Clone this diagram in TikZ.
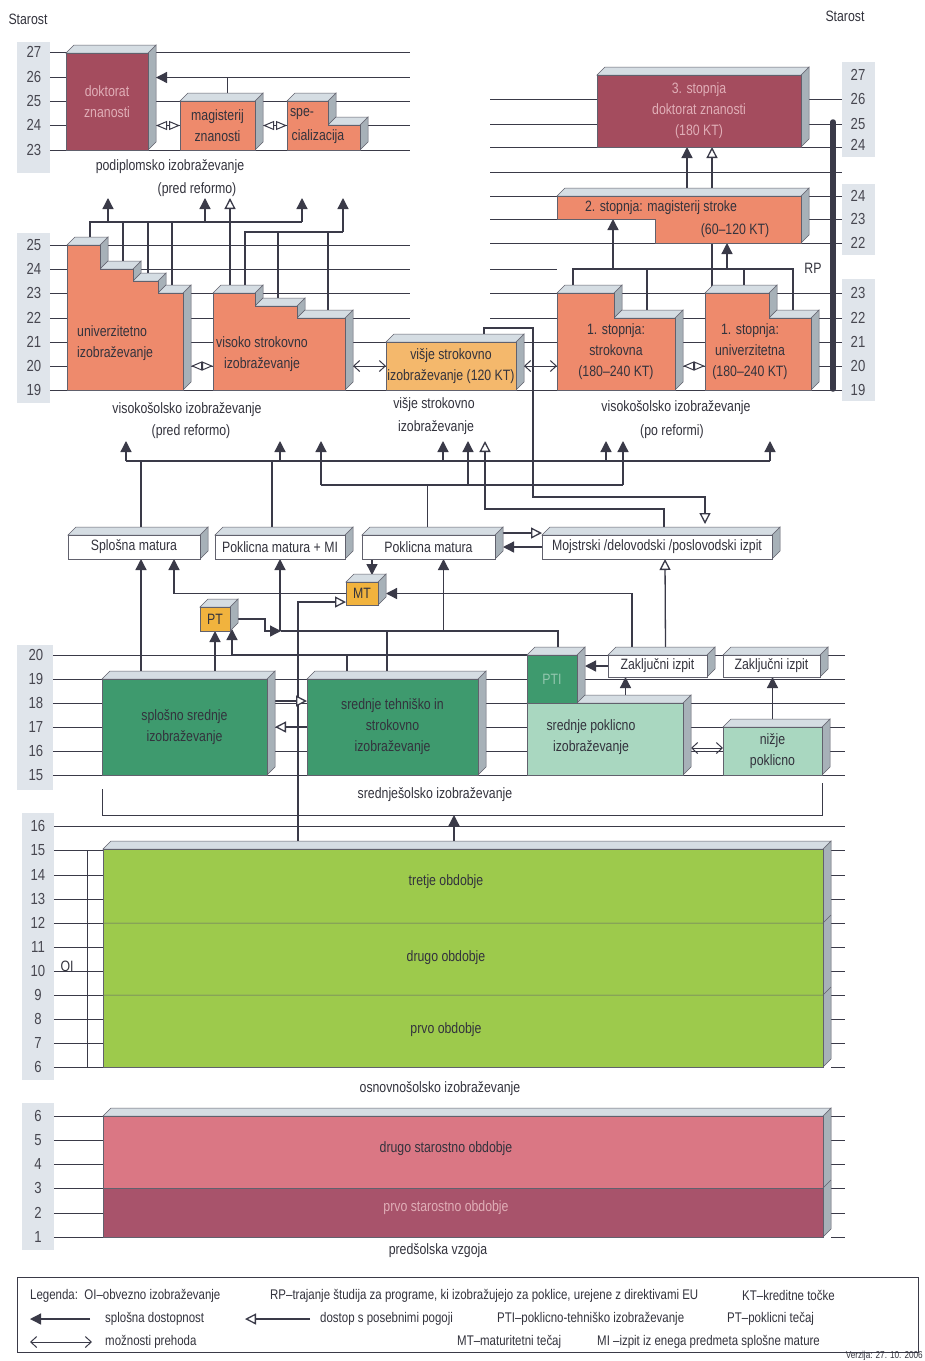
\documentclass[tikz,border=0pt]{standalone}
\usepackage{fontspec}
\setmainfont{Liberation Sans}[FakeStretch=0.82]
\usetikzlibrary{arrows.meta,calc,positioning}

\definecolor{crta}{HTML}{3A3A48}
\definecolor{losos}{HTML}{EE8A6C}
\definecolor{bordo}{HTML}{A44C5E}
\definecolor{rozica}{HTML}{E0AEB7}
\definecolor{oranzna}{HTML}{F4B86C}
\definecolor{zlata}{HTML}{F1B33E}
\definecolor{zelena}{HTML}{3E9A6E}
\definecolor{svzelena}{HTML}{A9D7C0}
\definecolor{bledozel}{HTML}{93C7AE}
\definecolor{rumzel}{HTML}{9DCA4C}
\definecolor{roza}{HTML}{DA7784}
\definecolor{temroza}{HTML}{A8536B}
\definecolor{vrhc}{HTML}{D5DDE3}
\definecolor{bokc}{HTML}{A7B1B8}
\definecolor{lestvica}{HTML}{E0E5EB}
\definecolor{besedilo}{HTML}{33333D}

\tikzstyle{vod} = [draw=crta, line width=1.3pt]
\tikzstyle{puscica} = [vod, -{Triangle[length=11pt,width=11pt]}]
\tikzstyle{odprta} = [vod, -{Triangle[length=11pt,width=11pt,fill=white]}]
\tikzstyle{prehod} = [vod, line width=1pt,
  {Straight Barb[length=6pt,width=11pt]}-{Straight Barb[length=6pt,width=11pt]}]
\tikzstyle{romb} = [vod, line width=1pt,
  {Triangle[length=11pt,width=9pt,fill=white]}-{Triangle[length=11pt,width=9pt,fill=white]}]
\tikzstyle{mreza} = [draw=crta, line width=0.9pt]
\tikzstyle{tanka} = [draw=crta!80, line width=0.5pt]
\tikzstyle{kvad} = [tanka, inner sep=1pt, outer sep=0pt, align=center]
\tikzstyle{losf} = [tanka, fill=losos]
\tikzstyle{vrhf} = [tanka, fill=vrhc]
\tikzstyle{bokf} = [tanka, fill=bokc]
\tikzstyle{napis} = [align=center, inner sep=0pt]
\tikzstyle{leta} = [inner sep=0pt, font=\fontsize{16}{18}\selectfont, text=besedilo!90]
\tikzstyle{prazen} = [inner sep=0pt, outer sep=0pt]
\tikzstyle{leg} = [anchor=west, inner sep=0pt, font=\fontsize{14}{16}\selectfont]

\pgfdeclarelayer{ozadje}
\pgfsetlayers{ozadje,main}

% top face and side face of a box
\newcommand{\vrh}[3]{\filldraw[vrhf] (#1,#3) -- ++(8,-8) -- (#2+8,#3-8) -- (#2,#3) -- cycle;}
\newcommand{\bok}[3]{\filldraw[bokf] (#1,#2) -- ++(8,-8) -- (#1+8,#3-8) -- (#1,#3) -- cycle;}
\newcommand{\kvader}[7][]{\bok{#5}{#4}{#6}\vrh{#3}{#5}{#4}%
  \node[kvad, #1, minimum width=#5pt-#3pt, minimum height=#6pt-#4pt,
        anchor=north west] (#2) at (#3,#4) {#7};}

\begin{document}
\begin{tikzpicture}[x=1pt, y=-1pt, font=\fontsize{15}{21}\selectfont,
                    every node/.append style={text=besedilo}]
\useasboundingbox (0,0) rectangle (925,1361);

\node (star1) at (28,19) {Starost};
\node (star2) at (845,16) {Starost};

% ---- podiplomsko (pred reformo)
\kvader[fill=bordo, text=rozica]{dok}{66}{53}{148}{150}{doktorat\\znanosti}
\kvader[fill=losos]{mag}{180}{101}{255}{150}{magisterij\\znanosti}
\bok{328}{101}{125} \bok{360}{125}{150}
\vrh{287}{328}{101} \vrh{328}{360}{125}
\filldraw[losf] (287,101) -| (328,125) -| (360,150) -- (287,150) -- cycle;
\node[prazen, minimum width=41pt, minimum height=49pt, anchor=north west] (spec) at (287,101) {};
\node[napis] (spec1) at (302,114) {spe-};
\node[napis] (spec2) at (318,137) {cializacija};
\node[napis] (podipl) at (170,167) {podiplomsko izobraževanje};
\node[napis] (podipl2) at (197,190) {(pred reformo)};

% ---- 3. in 2. stopnja
\kvader[fill=bordo, text=rozica]{st3}{597}{75}{801}{147}{3. stopnja\\doktorat znanosti\\(180 KT)}
\bok{801}{196}{243} \vrh{557}{801}{196}
\filldraw[losf] (557,196) -| (801,243) -- (655,243) |- (557,219) -- cycle;
\node[prazen, minimum width=244pt, minimum height=23pt, anchor=north west] (st2) at (557,196) {};
\node[prazen, minimum width=146pt, minimum height=24pt, anchor=north west] (st2b) at (655,219) {};
\node[napis] (st2t) at (661,208) {2. stopnja: magisterij stroke};
\node[napis] (st2u) at (735,231) {(60–120 KT)};

% ---- visokosolsko (pred reformo)
\bok{100}{245}{269} \bok{133}{269}{281} \bok{158}{281}{293} \bok{183}{293}{390}
\vrh{67}{100}{245} \vrh{100}{133}{269} \vrh{133}{158}{281} \vrh{158}{183}{293}
\filldraw[losf] (67,245) -| (100,269) -| (133,281) -| (158,293) -| (183,390) -- (67,390) -- cycle;
\node[napis, align=left, anchor=west] (unit) at (77,343) {univerzitetno\\izobraževanje};
\bok{255}{293}{306} \bok{297}{306}{318} \bok{345}{318}{390}
\vrh{213}{255}{293} \vrh{255}{297}{306} \vrh{297}{345}{318}
\filldraw[losf] (213,293) -| (255,306) -| (297,318) -| (345,390) -- (213,390) -- cycle;
\node[napis] (vist) at (262,354) {visoko strokovno\\izobraževanje};
\node[napis] (vispod) at (187,410) {visokošolsko izobraževanje};
\node[napis] (vispod2) at (191,432) {(pred reformo)};

% ---- visje strokovno
\kvader[fill=oranzna]{vsi}{386}{342}{516}{390}{višje strokovno\\izobraževanje (120 KT)}
\node[napis] (vsipod) at (434,405) {višje strokovno};
\node[napis] (vsipod2) at (436,428) {izobraževanje};

% ---- 1. stopnja (po reformi)
\bok{614}{293}{318} \bok{675}{318}{390}
\vrh{557}{614}{293} \vrh{614}{675}{318}
\filldraw[losf] (557,293) -| (614,318) -| (675,390) -- (557,390) -- cycle;
\node[napis] (sstt) at (616,352) {1. stopnja:\\strokovna\\(180–240 KT)};
\bok{769}{293}{318} \bok{811}{318}{390}
\vrh{705}{769}{293} \vrh{769}{811}{318}
\filldraw[losf] (705,293) -| (769,318) -| (811,390) -- (705,390) -- cycle;
\node[napis] (sunt) at (750,352) {1. stopnja:\\univerzitetna\\(180–240 KT)};
\node[napis] (popod) at (676,408) {visokošolsko izobraževanje};
\node[napis] (popod2) at (672,432) {(po reformi)};
\node[napis] (rp) at (813,268) {RP};

% ---- mature
\kvader[fill=white]{ssm}{68}{535}{200}{559}{Splošna matura}
\kvader[fill=white]{pm1}{215}{535}{345}{559}{Poklicna matura + MI}
\kvader[fill=white]{pm2}{362}{535}{495}{559}{Poklicna matura}
\kvader[fill=white]{moj}{542}{535}{772}{559}{Mojstrski /delovodski /poslovodski izpit}
\kvader[fill=zlata]{mt}{346}{582}{378}{605}{MT}
\kvader[fill=zlata]{pt}{200}{607}{230}{631}{PT}

% ---- srednjesolsko
\kvader[fill=zelena]{ssi}{102}{679}{267}{775}{splošno srednje\\izobraževanje}
\kvader[fill=zelena]{sts}{307}{679}{478}{775}{srednje tehniško in\\strokovno\\izobraževanje}
\kvader[fill=svzelena]{spi}{527}{703}{683}{775}{}
\node[napis] (spit) at (591,737) {srednje poklicno\\izobraževanje};
\kvader[fill=zelena, text=bledozel]{pti}{527}{655}{577}{703}{PTI}
\kvader[fill=svzelena]{npi}{723}{727}{822}{775}{nižje\\poklicno}
\kvader[fill=white]{zi1}{608}{655}{707}{677}{Zaključni izpit}
\kvader[fill=white]{zi2}{723}{655}{820}{677}{Zaključni izpit}
\node[napis] (srpod) at (435,795) {srednješolsko izobraževanje};

% ---- osnovnosolsko
\kvader[fill=rumzel]{osn}{103}{849}{823}{1067}{}
\draw[tanka] (103,923) -- (823,923) -- ++(8,-8);
\draw[tanka] (103,995) -- (823,995) -- ++(8,-8);
\node[napis] (tretje) at (446,882) {tretje obdobje};
\node[napis] (drugo) at (446,958) {drugo obdobje};
\node[napis] (prvo) at (446,1030) {prvo obdobje};
\node[napis] (oi) at (67,966) {OI};
\node[napis] (osnpod) at (440,1089) {osnovnošolsko izobraževanje};

% ---- predsolska vzgoja
\kvader[fill=roza]{pred}{103}{1116}{823}{1237}{}
\filldraw[tanka, fill=temroza] (103,1188) rectangle (823,1237);
\draw[tanka] (823,1188) -- ++(8,-8);
\node[napis] (drugost) at (446,1149) {drugo starostno obdobje};
\node[napis, text=rozica] (prvost) at (446,1208) {prvo starostno obdobje};
\node[napis] (predpod) at (438,1251) {predšolska vzgoja};

% ---- starostne lestvice
\foreach \s/\y in {27/52,26/77,25/101,24/125,23/150,
                   25/245,24/269,23/293,22/318,21/342,20/366,19/390}
  \node[leta] at (34,\y) {\s};
\foreach \s/\y in {27/75,26/99,25/124,24/145,24/196,23/219,22/243,
                   23/293,22/318,21/342,20/366,19/390}
  \node[leta] at (858,\y) {\s};
\foreach \s/\y in {20/655,19/679,18/703,17/727,16/751,15/775}
  \node[leta] at (36,\y) {\s};
\foreach \s/\y in {16/826,15/850,14/875,13/899,12/923,11/947,10/971,9/995,8/1019,7/1043,6/1067,
                   6/1116,5/1140,4/1164,3/1188,2/1213,1/1237}
  \node[leta] at (38,\y) {\s};

% ---- legenda
\node[prazen, draw=crta, line width=.6pt, minimum width=901pt, minimum height=75pt,
      anchor=north west] (legenda) at (17,1277) {};
\node[leg] (lg1) at (30,1296) {Legenda:\ \ OI–obvezno izobraževanje};
\node[leg] (lg2) at (270,1296) {RP–trajanje študija za programe, ki izobražujejo za poklice, urejene z direktivami EU};
\node[leg] (lg3) at (742,1295) {KT–kreditne točke};
\node[leg] (lg4) at (105,1319) {splošna dostopnost};
\node[leg] (lg5) at (320,1319) {dostop s posebnimi pogoji};
\node[leg] (lg6) at (497,1319) {PTI–poklicno-tehniško izobraževanje};
\node[leg] (lg7) at (727,1319) {PT–poklicni tečaj};
\node[leg] (lg8) at (105,1342) {možnosti prehoda};
\node[leg] (lg9) at (457,1342) {MT–maturitetni tečaj};
\node[leg] (lg10) at (597,1342) {MI –izpit iz enega predmeta splošne mature};
\node[inner sep=0pt, anchor=south east, font=\fontsize{10}{11}\selectfont] (verz) at (923,1361) {Verzija: 27. 10. 2006};

% step tops and junctions
\coordinate (uni1) at (83,245);  \coordinate (uni2) at (116,269);
\coordinate (uni3) at (145,281); \coordinate (uni4) at (170,293);
\coordinate (vis1) at (234,293); \coordinate (vis2) at (276,306); \coordinate (vis3) at (321,318);
\coordinate (sst1) at (585,293); \coordinate (sst2) at (644,318);
\coordinate (sun1) at (737,293); \coordinate (sun2) at (790,318);
\coordinate (uniD) at (191,366); \coordinate (visL) at (213,366); \coordinate (visD) at (353,366);
\coordinate (sstL) at (557,366); \coordinate (sstD) at (683,366); \coordinate (sunL) at (705,366);
\coordinate (vrh2) at (0,198);  \coordinate (vrsta) at (0,441);
\coordinate (A1) at (90,222);   \coordinate (A2) at (302,222);
\coordinate (B1) at (245,232);  \coordinate (B2) at (343,232);
\coordinate (R1) at (573,269);  \coordinate (R2) at (793,269);
\coordinate (L1a) at (126,461); \coordinate (L1b) at (770,461);
\coordinate (L2a) at (321,485); \coordinate (L2b) at (623,485);
\coordinate (L3a) at (485,509);
\coordinate (M1) at (533,328);  \coordinate (M2) at (705,497);
\coordinate (J3) at (281,631);
\coordinate (ob1) at (102,789); \coordinate (ob2) at (822,783); \coordinate (ob3) at (454,815);
\coordinate (oi1) at (87,850);  \coordinate (oi2) at (87,1067);
\coordinate (rpz) at (833,122); \coordinate (rpk) at (833,389);

\begin{pgfonlayer}{ozadje}
  \fill[white] (0,0) rectangle (925,1361);
  \fill[lestvica] (17,42) rectangle (50,173);
  \fill[lestvica] (17,233) rectangle (50,403);
  \fill[lestvica] (842,62) rectangle (875,157);
  \fill[lestvica] (842,184) rectangle (875,255);
  \fill[lestvica] (842,279) rectangle (875,401);
  \fill[lestvica] (17,645) rectangle (53,790);
  \fill[lestvica] (22,813) rectangle (54,1080);
  \fill[lestvica] (22,1103) rectangle (54,1250);

  % grid lines
  \foreach \y in {52,77,101,125,150,245,269,293,318} \draw[mreza] (50,\y) -- (410,\y);
  \foreach \y in {99,124,147,172,196,219,243,293,318} \draw[mreza] (490,\y) -- (842,\y);
  \draw[mreza] (490,269) -- (557,269);
  \foreach \y in {342,366,390} \draw[mreza] (50,\y) -- (842,\y);
  \foreach \y in {655,679,703,727,751,775} \draw[mreza] (53,\y) -- (845,\y);
  \draw[mreza] (54,826) -- (845,826);
  \foreach \y in {850,875,899,923,947,971,995,1019,1043,1067,1116,1140,1164,1188,1213,1237}
    {\draw[mreza] (54,\y) -- (103,\y); \draw[mreza] (831,\y) -- (845,\y);}
  \draw[vod, line width=1pt] (oi1) -- (oi2);
  \draw[crta, line width=5.5pt, line cap=round] (rpz) -- (rpk);

  % podiplomsko
  \draw[puscica] ([xshift=10pt]mag.north) |- ($(dok.east)+(8,-24)$);
  \draw[romb] ($(dok.east)+(8,24)$) -- (mag.west);
  \draw[romb] ($(mag.east)+(8,0)$) -- (spec.west);

  % 3. stopnja
  \draw[puscica] ($(st2.north)+(8,0)$) -- ($(st3.south)+(-12,0)$);
  \draw[odprta] (712,0 |- sun1) -- (712,0 |- st3.south);
  \draw[vod] (R1 |- sst1) -- (R1) -- (R2) -- (R2 |- sun2);
  \foreach \x/\s in {647/sst2, 744/sun1} \draw[vod] (\x,0 |- \s) -- (\x,0 |- R1);
  \draw[puscica] (613,0 |- R1) -- (613,0 |- st2.south);
  \draw[puscica] (727,0 |- R1) -- (727,0 |- st2b.south);

  % iz visokosolskega v podiplomsko
  \draw[vod] (A1 |- uni1) -- (A1) -- (A2);
  \foreach \x/\s in {123/uni2, 148/uni3, 172/uni4} \draw[vod] (\x,0 |- \s) -- (\x,0 |- A1);
  \foreach \x in {108,205} \draw[puscica] (\x,0 |- A1) -- (\x,0 |- vrh2);
  \draw[puscica] (A2) -- (A2 |- vrh2);
  \draw[vod] (B1 |- vis1) -- (B1) -- (B2);
  \foreach \x/\s in {278/vis2, 328/vis3} \draw[vod] (\x,0 |- \s) -- (\x,0 |- B1);
  \draw[puscica] (B2) -- (B2 |- vrh2);
  \draw[odprta] (230,0 |- vis1) -- (230,0 |- vrh2);

  % prehodi
  \draw[romb] (uniD) -- (visL);
  \draw[prehod] (visD) -- (vsi.west);
  \draw[prehod] ($(vsi.east)+(8,0)$) -- (sstL);
  \draw[romb] (sstD) -- (sunL);

  % mature navzgor
  \draw[vod] ($(ssm.north)+(7,0)$) |- (L1a) -- (L1b);
  \draw[vod] ($(pm1.north)+(-8,0)$) |- (L1a);
  \foreach \x in {126,280,443,606,770} \draw[puscica] (\x,0 |- L1a) -- (\x,0 |- vrsta);
  \draw[vod] ($(pm2.north)+(-1,0)$) |- (L2a) -- (L2b);
  \foreach \x in {321,468,623} \draw[puscica] (\x,0 |- L2a) -- (\x,0 |- vrsta);
  \draw[odprta] ($(moj.north)+(7,0)$) |- (L3a) -- (L3a |- vrsta);
  \draw[odprta] ($(vsi.north)+(33,0)$) |- (M1) |- (M2) -- ($(moj.north)+(48,-11)$);
  \draw[puscica] (moj.west) -- ($(pm2.east |- moj.west)+(8,0)$);
  \draw[odprta] ($(pm2.north east)+(7,-2)$) -- ($(moj.north west)+(0,-2)$);

  % MT, PT
  \draw[puscica] ($(pm2.south west)+(10,0)$) -- ($(mt.north)+(10,-7)$);
  \draw[puscica] (mt.west) -| ($(ssm.south)+(40,0)$);
  \draw[puscica] ($(zi1.north west)+(24,0)$) |- ($(mt.east)+(8,0)$);
  \draw[odprta] ($(osn.north west)+(195,0)$) |- ($(mt.south west)+(0,-3)$);
  \draw[puscica] ($(pt.east)+(8,0)$) -- ++(27,0) |- (J3);
  \draw[vod] ($(pti.north)+(6,0)$) |- (J3);
  \draw[puscica] (pm1.south |- J3) -- (pm1.south);
  \draw[vod] ($(sts.north west)+(80,0)$) -- ($(sts.north west)+(80,-48)$);
  \draw[puscica] ($(pm2.south |- J3)+(15,0)$) -- ($(pm2.south)+(15,0)$);
  \draw[puscica] ($(ssi.north west)+(39,0)$) -- ($(ssm.south)+(7,0)$);
  \draw[puscica] (pt.south |- ssi.north) -- (pt.south);
  \draw[puscica] (pti.north west) -| ($(pt.south)+(17,-2)$);
  \draw[vod] ($(sts.north west)+(40,0)$) -- ($(sts.north west)+(40,-24)$);

  % srednjesolsko
  \draw[odprta] ($(ssi.east)+(8,-26)$) -- ($(sts.west)+(0,-26)$);
  \draw[odprta] (sts.west) -- ($(ssi.east)+(8,0)$);
  \draw[puscica] (zi1.west) -- ($(pti.east |- zi1.west)+(8,0)$);
  \draw[puscica] ($(zi1.south)+(-32,18)$) -- ($(zi1.south)+(-32,0)$);
  \draw[puscica] (npi.north) -- (npi.north |- zi2.south);
  \draw[prehod] ($(spi.east |- npi.west)+(8,-3)$) -- ($(npi.west)+(0,-3)$);
  \draw[odprta] ($(zi1.north)+(8,-8)$) -- ($(moj.south)+(8,0)$);
  \draw[vod, line width=1pt] (ob1) -- (ob1 |- ob3) -| (ob2);
  \draw[puscica] ($(osn.north west)+(351,0)$) -- (ob3);

  % legenda
  \draw[puscica] ($(lg4.west)+(-15,0)$) -- ++(-60,0);
  \draw[odprta] ($(lg5.west)+(-10,0)$) -- ++(-65,0);
  \draw[prehod] ($(lg8.west)+(-13,0)$) -- ++(-62,0);
\end{pgfonlayer}
\end{tikzpicture}
\end{document}
